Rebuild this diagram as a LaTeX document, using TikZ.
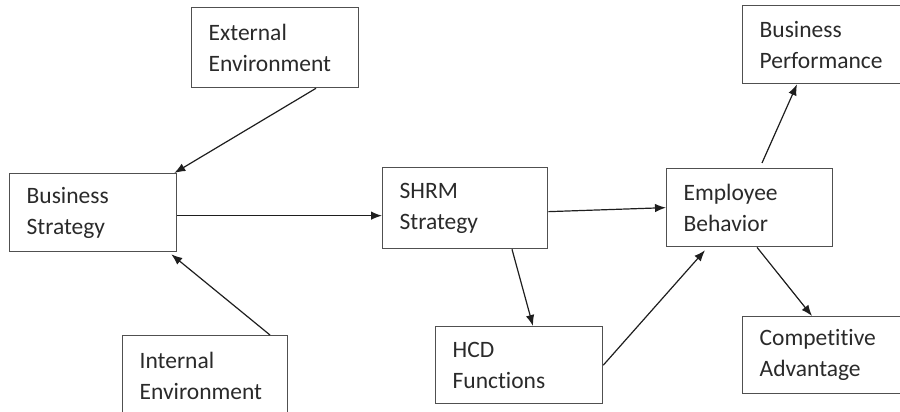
\documentclass[tikz,border=0pt]{standalone}
\usepackage{fontspec}
\setmainfont[Ligatures=NoCommon]{Carlito}
\usetikzlibrary{arrows.meta}
\definecolor{boxcol}{HTML}{505050}
\definecolor{txtcol}{HTML}{2A2A2A}
\definecolor{arrcol}{HTML}{1E1E1E}
\begin{document}
\begin{tikzpicture}[x=1pt,y=-1pt,
  box/.style={draw=boxcol, line width=1.3pt, rectangle, anchor=north west,
    inner xsep=17pt, inner ysep=0pt, align=left, text=txtcol,
    font=\fontsize{23.5}{31}\selectfont},
  conn/.style={draw=arrcol, line width=1.2pt, -{Latex[length=11pt,width=8.5pt]}}]
\useasboundingbox (0,0) rectangle (900,412);
\clip (0,0) rectangle (900,412);
\node[box, text width=133pt, minimum height=80pt] (ext) at (191,7) {External\\Environment};
\node[box, text width=133pt, minimum height=78pt] (bs) at (9,173) {Business\\Strategy};
\node[box, text width=131pt, minimum height=80pt] (int) at (122,335) {Internal\\Environment};
\node[box, text width=131pt, minimum height=81pt] (shrm) at (382,167) {SHRM\\Strategy};
\node[box, text width=133pt, minimum height=77pt] (hcd) at (435,326) {HCD\\Functions};
\node[box, text width=132pt, minimum height=78pt] (eb) at (666,168) {Employee\\Behavior};
\node[box, text width=136pt, minimum height=78pt] (bp) at (742,5) {Business\\Performance};
\node[box, text width=136pt, minimum height=77pt] (ca) at (742,316) {Competitive\\Advantage};
\draw[conn] ([xshift=125pt]ext.south west) -- ([xshift=-3pt]bs.north east);
\draw[conn] ([yshift=-3pt]bs.east) -- ([yshift=-7.5pt]shrm.west);
\draw[conn] ([xshift=148pt]int.north west) -- ([xshift=-6pt,yshift=-2pt]bs.south east);
\draw[conn] ([yshift=-3.5pt]shrm.east) -- (eb.west);
\draw[conn] ([xshift=130pt]shrm.south west) -- ([xshift=98pt]hcd.north west);
\draw[conn] (hcd.east) -- ([xshift=39pt,yshift=-3pt]eb.south west);
\draw[conn] ([xshift=96pt,yshift=5pt]eb.north west) -- ([xshift=55pt]bp.south west);
\draw[conn] ([xshift=91pt]eb.south west) -- ([xshift=70pt]ca.north west);
\end{tikzpicture}
\end{document}
